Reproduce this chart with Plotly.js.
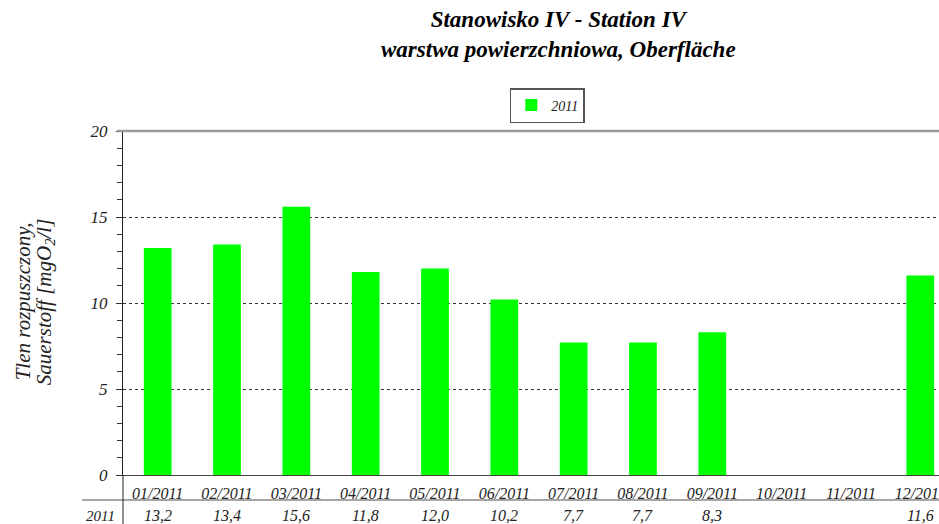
<!DOCTYPE html>
<html>
<head>
<meta charset="utf-8">
<script src="https://cdn.plot.ly/plotly-3.0.1.min.js"></script>
<style>html,body{margin:0;padding:0;background:#fff;}#chart{width:939px;height:524px;}</style>
</head>
<body>
<div id="chart"></div>
<script>
const categories = ["01/2011","02/2011","03/2011","04/2011","05/2011","06/2011","07/2011","08/2011","09/2011","10/2011","11/2011","12/2011"];
const values2011 = [13.2, 13.4, 15.6, 11.8, 12.0, 10.2, 7.7, 7.7, 8.3, null, null, 11.6];
const seriesName = "2011";
const yTicks = [0, 5, 10, 15, 20];

const serif = "'Liberation Serif', 'Times New Roman', Times, serif";
const ital = (size, color) => ({family: serif, size: size, color: color || "#222", style: "italic"});

const trace = {
  type: "bar",
  x: categories,
  y: values2011,
  name: seriesName,
  width: 0.4,
  marker: {color: "#00ff00", line: {width: 0}},
  hoverinfo: "x+y"
};

const annotations = [];
categories.forEach((c, i) => {
  const v = values2011[i];
  if (v !== null) {
    annotations.push({
      xref: "x", yref: "paper", x: c, y: -0.119,
      text: v.toFixed(1).replace(".", ","), showarrow: false,
      font: ital(16), xanchor: "center", yanchor: "middle"
    });
  }
});
annotations.push({
  xref: "paper", yref: "paper", x: -0.028, y: -0.119,
  text: seriesName, showarrow: false,
  font: ital(15), xanchor: "center", yanchor: "middle"
});
annotations.push({
  xref: "paper", yref: "paper", x: -0.1225, y: 0.505,
  text: "Tlen rozpuszczony,", showarrow: false,
  textangle: -90,
  font: ital(21), xanchor: "center", yanchor: "middle"
});
annotations.push({
  xref: "paper", yref: "paper", x: -0.0956, y: 0.505,
  text: "Sauerstoff [mgO<sub>2</sub>/l]", showarrow: false,
  textangle: -90,
  font: ital(21), xanchor: "center", yanchor: "middle"
});
annotations.push({
  xref: "paper", yref: "paper", x: 0.534, y: 1.28,
  text: "<b>Stanowisko IV - Station IV<br>warstwa powierzchniowa, Oberfläche</b>", showarrow: false,
  font: {family: serif, size: 23, color: "#000", style: "italic"}, xanchor: "center", yanchor: "middle"
});

const layout = {
  width: 939, height: 524,
  margin: {l: 123, r: 0, t: 131, b: 49, pad: 0},
  paper_bgcolor: "#fff", plot_bgcolor: "#fff",
  showlegend: true,
  legend: {
    x: 0.52, xanchor: "center", y: 1.125, yanchor: "top",
    orientation: "h",
    bordercolor: "#555", borderwidth: 1.5, bgcolor: "#fff",
    font: ital(14),
    itemwidth: 30
  },
  xaxis: {
    type: "category",
    range: [-0.5, 11.27],
    showline: true, linecolor: "#444", linewidth: 1,
    showgrid: false, zeroline: false,
    ticks: "",
    tickfont: ital(16),
    ticklabelstandoff: 4,
    fixedrange: true
  },
  yaxis: {
    range: [0, 20],
    tickvals: yTicks,
    ticktext: yTicks.map(v => String(v)),
    ticks: "outside", ticklen: 6, tickcolor: "#333", tickwidth: 1,
    minor: {dtick: 1, ticks: "outside", ticklen: 5, tickcolor: "#333", showgrid: false},
    showline: true, linecolor: "#222", linewidth: 1,
    showgrid: true, gridcolor: "#333", griddash: "dot", gridwidth: 1,
    zeroline: false,
    tickfont: ital(17),
    ticklabelstandoff: 5,
    fixedrange: true
  },
  annotations: annotations,
  shapes: [
    {type: "line", xref: "paper", yref: "paper", x0: -0.007, x1: 1, y0: 1, y1: 1, line: {color: "#999", width: 2.5}},
    {type: "line", xref: "paper", yref: "paper", x0: -0.05, x1: 1, y0: -0.0727, y1: -0.0727, line: {color: "#888", width: 1.5}},
    {type: "line", xref: "paper", yref: "paper", x0: 0, x1: 0, y0: 0, y1: -0.15, line: {color: "#222", width: 1}}
  ]
};

Plotly.newPlot("chart", [trace], layout, {displayModeBar: false, staticPlot: true});
</script>
</body>
</html>
